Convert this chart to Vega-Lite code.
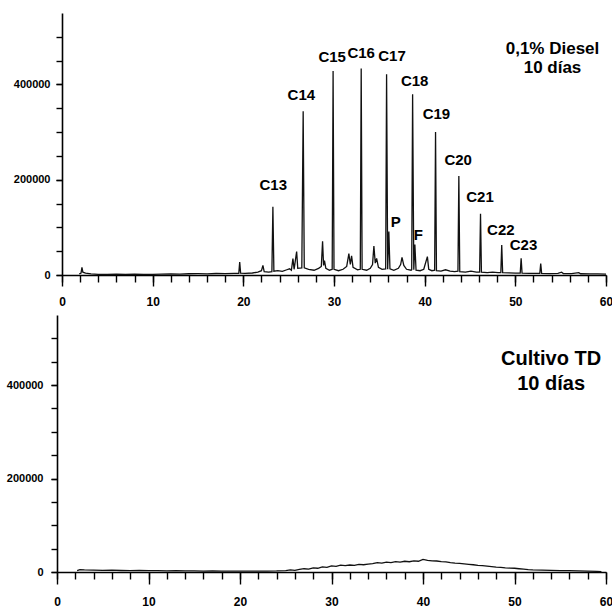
{
  "$schema": "https://vega.github.io/schema/vega-lite/v6.json",
  "padding": {"left": 6, "top": 13, "right": 0, "bottom": 0},
  "background": "white",
  "spacing": 40,
  "bounds": "flush",
  "config": {
    "view": {"stroke": null},
    "axis": {
      "grid": false,
      "title": null,
      "domainColor": "black",
      "domainWidth": 1.6,
      "tickColor": "black",
      "tickWidth": 1.4,
      "labelColor": "black",
      "labelFont": "Liberation Sans, Arial, sans-serif",
      "labelFontWeight": "bold",
      "labelFlush": false
    }
  },
  "datasets": {
    "diesel": [
      {"t":1.9,"v":2000},{"t":2.1,"v":4000},{"t":2.2,"v":16000},{"t":2.3,"v":6000},{"t":2.6,"v":4000},{"t":3.2,"v":2500},{"t":4,"v":1500},{"t":5,"v":1000},{"t":6,"v":1600},{"t":7,"v":1200},{"t":8,"v":1800},{"t":9,"v":1400},{"t":10,"v":1500},{"t":11,"v":1900},{"t":12,"v":2300},{"t":13,"v":2000},{"t":14,"v":2600},{"t":15,"v":2700},{"t":16,"v":2400},{"t":17,"v":3100},{"t":18,"v":2900},{"t":19,"v":3300},{"t":19.5,"v":3600},{"t":19.6,"v":27000},{"t":19.7,"v":4000},{"t":20.2,"v":3600},{"t":21,"v":4200},{"t":21.6,"v":6000},{"t":22.0,"v":9000},{"t":22.16,"v":20300},{"t":22.3,"v":7000},{"t":22.8,"v":6000},{"t":23.15,"v":7000},{"t":23.26,"v":143000},{"t":23.37,"v":8000},{"t":23.8,"v":9000},{"t":24.3,"v":7500},{"t":24.8,"v":11000},{"t":25.1,"v":13000},{"t":25.3,"v":10000},{"t":25.47,"v":34500},{"t":25.6,"v":12000},{"t":25.88,"v":49400},{"t":26.0,"v":14000},{"t":26.45,"v":15000},{"t":26.6,"v":343500},{"t":26.72,"v":15000},{"t":27.2,"v":12000},{"t":27.8,"v":10000},{"t":28.3,"v":14000},{"t":28.6,"v":18000},{"t":28.74,"v":71000},{"t":28.85,"v":20000},{"t":28.95,"v":30000},{"t":29.1,"v":14000},{"t":29.5,"v":10000},{"t":29.8,"v":12000},{"t":29.9,"v":428000},{"t":30.0,"v":12000},{"t":30.5,"v":9000},{"t":31.0,"v":12000},{"t":31.4,"v":18000},{"t":31.64,"v":44700},{"t":31.8,"v":22000},{"t":31.94,"v":40000},{"t":32.1,"v":16000},{"t":32.6,"v":11000},{"t":32.9,"v":12000},{"t":33.0,"v":433500},{"t":33.1,"v":12000},{"t":33.6,"v":10000},{"t":34.0,"v":14000},{"t":34.25,"v":22000},{"t":34.4,"v":61000},{"t":34.55,"v":25000},{"t":34.7,"v":35000},{"t":34.9,"v":16000},{"t":35.3,"v":12000},{"t":35.7,"v":13000},{"t":35.8,"v":421300},{"t":35.92,"v":12000},{"t":36.05,"v":91500},{"t":36.17,"v":13000},{"t":36.6,"v":10000},{"t":37.1,"v":14000},{"t":37.35,"v":22000},{"t":37.5,"v":37200},{"t":37.7,"v":20000},{"t":38.0,"v":12000},{"t":38.5,"v":10000},{"t":38.57,"v":11000},{"t":38.67,"v":379500},{"t":38.8,"v":11000},{"t":38.92,"v":64000},{"t":39.05,"v":10000},{"t":39.5,"v":9000},{"t":39.9,"v":12000},{"t":40.3,"v":38600},{"t":40.45,"v":12000},{"t":40.8,"v":9000},{"t":41.1,"v":10000},{"t":41.2,"v":300200},{"t":41.3,"v":9000},{"t":41.8,"v":8000},{"t":42.3,"v":11000},{"t":42.8,"v":8000},{"t":43.3,"v":7000},{"t":43.67,"v":8000},{"t":43.77,"v":208000},{"t":43.87,"v":7000},{"t":44.5,"v":6000},{"t":45.1,"v":8000},{"t":45.7,"v":6000},{"t":46.06,"v":6000},{"t":46.16,"v":128700},{"t":46.26,"v":6000},{"t":46.9,"v":5000},{"t":47.5,"v":6000},{"t":48.1,"v":5000},{"t":48.4,"v":5000},{"t":48.5,"v":63000},{"t":48.6,"v":5000},{"t":49.3,"v":4500},{"t":50.0,"v":4000},{"t":50.54,"v":4000},{"t":50.64,"v":35200},{"t":50.74,"v":4000},{"t":51.5,"v":3500},{"t":52.2,"v":3500},{"t":52.7,"v":3500},{"t":52.8,"v":23800},{"t":52.9,"v":3500},{"t":53.8,"v":3000},{"t":54.7,"v":3200},{"t":55.1,"v":6000},{"t":55.3,"v":3000},{"t":56.2,"v":2800},{"t":57.0,"v":5000},{"t":57.2,"v":2600},{"t":58.2,"v":2500},{"t":59.1,"v":2200},{"t":60,"v":2000}
    ],
    "cultivo": [
      {"t":2.2,"v":3000},{"t":2.5,"v":5000},{"t":3,"v":4500},{"t":4,"v":4000},{"t":5,"v":3500},{"t":6,"v":3800},{"t":7,"v":3200},{"t":8,"v":3000},{"t":9,"v":3300},{"t":10,"v":3000},{"t":11,"v":2800},{"t":12,"v":2500},{"t":13,"v":2700},{"t":14,"v":2200},{"t":15,"v":2400},{"t":16,"v":2000},{"t":17,"v":2200},{"t":18,"v":1800},{"t":19,"v":2000},{"t":20,"v":1800},{"t":21,"v":2000},{"t":22,"v":1700},{"t":23,"v":2000},{"t":24,"v":2200},{"t":25,"v":3000},{"t":25.5,"v":4500},{"t":26,"v":3500},{"t":26.5,"v":5500},{"t":27,"v":7000},{"t":27.5,"v":6000},{"t":28,"v":9000},{"t":28.5,"v":8000},{"t":29,"v":11000},{"t":29.5,"v":10000},{"t":30,"v":13000},{"t":30.5,"v":12000},{"t":31,"v":14500},{"t":31.5,"v":13500},{"t":32,"v":15000},{"t":32.5,"v":14000},{"t":33,"v":16500},{"t":33.5,"v":15500},{"t":34,"v":17000},{"t":34.5,"v":18000},{"t":35,"v":20000},{"t":35.5,"v":19000},{"t":36,"v":21000},{"t":36.5,"v":20000},{"t":37,"v":22000},{"t":37.5,"v":21000},{"t":38,"v":23000},{"t":38.5,"v":22000},{"t":39,"v":24000},{"t":39.5,"v":23000},{"t":40,"v":27000},{"t":40.5,"v":25000},{"t":41,"v":24000},{"t":41.5,"v":23500},{"t":42,"v":22000},{"t":42.5,"v":21500},{"t":43,"v":20000},{"t":43.5,"v":19000},{"t":44,"v":18500},{"t":44.5,"v":17500},{"t":45,"v":16500},{"t":45.5,"v":15500},{"t":46,"v":14000},{"t":46.5,"v":13500},{"t":47,"v":12500},{"t":47.5,"v":11500},{"t":48,"v":10500},{"t":48.5,"v":10000},{"t":49,"v":9000},{"t":49.5,"v":8500},{"t":50,"v":8000},{"t":50.5,"v":7000},{"t":51,"v":6000},{"t":51.5,"v":5000},{"t":52,"v":4500},{"t":53,"v":4000},{"t":54,"v":3500},{"t":55,"v":3000},{"t":56,"v":3000},{"t":57,"v":2500},{"t":58,"v":2000},{"t":59,"v":1500},{"t":59.5,"v":1000}
    ],
    "peaks": [
      {"label":"C13","t":23.3,"v":188000},
      {"label":"C14","t":26.4,"v":377600},
      {"label":"C15","t":29.8,"v":457300},
      {"label":"C16","t":33.0,"v":465400},
      {"label":"C17","t":36.4,"v":459000},
      {"label":"C18","t":38.9,"v":408000},
      {"label":"C19","t":41.3,"v":337000},
      {"label":"C20","t":43.7,"v":242300},
      {"label":"C21","t":46.1,"v":164200},
      {"label":"C22","t":48.4,"v":94100},
      {"label":"C23","t":50.9,"v":62600},
      {"label":"P","t":36.8,"v":111800},
      {"label":"F","t":39.3,"v":84800}
    ]
  },
  "vconcat": [
    {
      "width": 549,
      "height": 262,
      "resolve": {"axis": {"x": "independent", "y": "independent"}},
      "layer": [
        {
          "data": {"name": "diesel"},
          "mark": {"type": "line", "color": "#111111", "strokeWidth": 1.3},
          "encoding": {
            "x": {
              "field": "t", "type": "quantitative",
              "scale": {"domain": [0, 60], "rangeMin": 5},
              "axis": {
                "orient": "bottom",
                "values": [0,2,4,6,8,10,12,14,16,18,20,22,24,26,28,30,32,34,36,38,40,42,44,46,48,50,52,54,56,58,60],
                "tickSize": 7,
                "labels": false
              }
            },
            "y": {
              "field": "v", "type": "quantitative",
              "scale": {"domain": [0, 532600]},
              "axis": {
                "orient": "left",
                "values": [0,50000,100000,150000,200000,250000,300000,350000,400000,450000,500000],
                "tickSize": 6,
                "labels": false,
                "offset": -5
              }
            }
          }
        },
        {
          "data": {"name": "peaks"},
          "mark": {"type": "text", "font": "Liberation Sans, Arial, sans-serif", "fontWeight": "bold", "fontSize": 15, "align": "center", "baseline": "middle", "color": "black"},
          "encoding": {
            "x": {"field": "t", "type": "quantitative", "axis": null},
            "y": {"field": "v", "type": "quantitative", "axis": null},
            "text": {"field": "label"}
          }
        },
        {
          "data": {"values": [{}]},
          "mark": {"type": "text", "font": "Liberation Sans, Arial, sans-serif", "fontWeight": "bold", "fontSize": 17, "lineHeight": 19, "align": "center", "baseline": "middle", "color": "black"},
          "encoding": {
            "x": {
              "datum": 54.1, "type": "quantitative",
              "axis": {
                "orient": "bottom",
                "values": [0,10,20,30,40,50,60],
                "tickSize": 11,
                "domain": false,
                "labelFontSize": 12,
                "labelPadding": 10
              }
            },
            "y": {
              "datum": 474000, "type": "quantitative",
              "axis": {
                "orient": "left",
                "values": [0,200000,400000],
                "format": "d",
                "tickSize": 6,
                "domain": false,
                "labelPadding": 6,
                "labelFontSize": 11,
                "offset": -5
              }
            },
            "text": {"value": ["0,1% Diesel", "10 días"]}
          }
        }
      ]
    },
    {
      "width": 549,
      "height": 257,
      "resolve": {"axis": {"x": "independent", "y": "independent"}},
      "layer": [
        {
          "data": {"name": "cultivo"},
          "mark": {"type": "line", "color": "#111111", "strokeWidth": 1.3},
          "encoding": {
            "x": {
              "field": "t", "type": "quantitative",
              "scale": {"domain": [0, 60]},
              "axis": {
                "orient": "bottom",
                "values": [0,2,4,6,8,10,12,14,16,18,20,22,24,26,28,30,32,34,36,38,40,42,44,46,48,50,52,54,56,58,60],
                "tickSize": 7,
                "labels": false
              }
            },
            "y": {
              "field": "v", "type": "quantitative",
              "scale": {"domain": [0, 516000]},
              "axis": {
                "orient": "left",
                "values": [0,50000,100000,150000,200000,250000,300000,350000,400000,450000,500000],
                "tickSize": 6,
                "labels": false
              }
            }
          }
        },
        {
          "data": {"values": [{}]},
          "mark": {"type": "text", "font": "Liberation Sans, Arial, sans-serif", "fontWeight": "bold", "fontSize": 20, "lineHeight": 25, "align": "center", "baseline": "middle", "color": "black"},
          "encoding": {
            "x": {
              "datum": 54.0, "type": "quantitative",
              "axis": {
                "orient": "bottom",
                "values": [0,10,20,30,40,50,60],
                "tickSize": 12,
                "domain": false,
                "labelFontSize": 12,
                "labelPadding": 12
              }
            },
            "y": {
              "datum": 455800, "type": "quantitative",
              "axis": {
                "orient": "left",
                "values": [0,200000,400000],
                "format": "d",
                "tickSize": 6,
                "domain": false,
                "labelPadding": 8,
                "labelFontSize": 11
              }
            },
            "text": {"value": ["Cultivo TD", "10 días"]}
          }
        }
      ]
    }
  ]
}
